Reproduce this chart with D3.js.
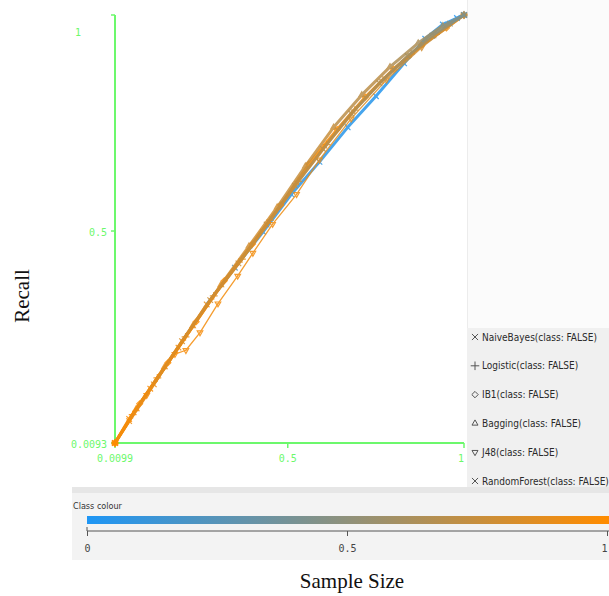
<!DOCTYPE html>
<html>
<head>
<meta charset="utf-8">
<script src="https://cdn.jsdelivr.net/npm/d3@7"></script>
<style>
  body { margin: 0; background: #fff; }
</style>
</head>
<body>
<div id="chart"></div>
<script>
// ---- data ----
const seriesNames = ['NaiveBayes', 'Logistic', 'IB1', 'Bagging', 'J48', 'RandomForest'];
const legendLabels = seriesNames.map(n => `${n}(class: FALSE)`);

const nbSample  = [0.0099, 0.05, 0.11, 0.19, 0.27, 0.35, 0.43, 0.51, 0.59, 0.67, 0.75, 0.83, 0.89, 0.94, 0.98, 1.0];
const nbRecall  = [0.0093, 0.065, 0.135, 0.23, 0.33, 0.415, 0.498, 0.585, 0.66, 0.74, 0.812, 0.888, 0.945, 0.978, 0.993, 1.0];
const nbThresh  = [1, 1, 0.99, 0.97, 0.9, 0.3, 0.15, 0.1, 0.07, 0.05, 0.04, 0.03, 0.02, 0.01, 0.005, 0];

const logSample = [0.0099, 0.06, 0.13, 0.21, 0.29, 0.37, 0.45, 0.53, 0.61, 0.69, 0.77, 0.85, 0.92, 1.0];
const logRecall = [0.0093, 0.075, 0.16, 0.255, 0.35, 0.435, 0.525, 0.615, 0.70, 0.78, 0.85, 0.91, 0.955, 1.0];
const logThresh = [1, 0.98, 0.95, 0.92, 0.9, 0.88, 0.85, 0.8, 0.78, 0.75, 0.72, 0.7, 0.68, 0.6];

const ibSample  = [0.0099, 0.08, 0.16, 0.24, 0.32, 0.40, 0.48, 0.56, 0.64, 0.72, 0.80, 0.88, 0.95, 1.0];
const ibRecall  = [0.0093, 0.10, 0.195, 0.29, 0.385, 0.47, 0.56, 0.655, 0.735, 0.81, 0.875, 0.93, 0.97, 1.0];
const ibThresh  = [1, 1, 1, 1, 1, 1, 1, 1, 1, 0.98, 0.97, 0.95, 0.92, 0.9];

const bagSample = [0.0099, 0.07, 0.15, 0.23, 0.31, 0.39, 0.47, 0.55, 0.63, 0.71, 0.79, 0.87, 0.94, 1.0];
const bagRecall = [0.0093, 0.088, 0.185, 0.28, 0.375, 0.465, 0.555, 0.65, 0.74, 0.815, 0.88, 0.935, 0.975, 1.0];
const bagThresh = [1, 0.95, 0.9, 0.9, 0.85, 0.8, 0.8, 0.75, 0.75, 0.7, 0.7, 0.65, 0.6, 0.5];

const j48Sample = [0.0099, 0.10, 0.18, 0.211, 0.251, 0.302, 0.358, 0.401, 0.457, 0.525, 0.59, 0.68, 0.78, 0.88, 1.0];
const j48Recall = [0.0093, 0.12, 0.215, 0.224, 0.265, 0.332, 0.396, 0.449, 0.516, 0.585, 0.665, 0.76, 0.85, 0.925, 1.0];
const j48Thresh = [1, 0.98, 0.97, 0.96, 0.96, 0.95, 0.95, 0.94, 0.94, 0.93, 0.9, 0.88, 0.85, 0.8, 0.75];

const rfSample  = [0.0099, 0.05, 0.12, 0.20, 0.28, 0.36, 0.44, 0.52, 0.60, 0.68, 0.76, 0.84, 0.91, 0.96, 1.0];
const rfRecall  = [0.0093, 0.06, 0.145, 0.245, 0.34, 0.425, 0.515, 0.605, 0.69, 0.772, 0.842, 0.905, 0.952, 0.98, 1.0];
const rfThresh  = [1, 0.95, 0.9, 0.85, 0.8, 0.78, 0.75, 0.72, 0.7, 0.68, 0.65, 0.6, 0.55, 0.5, 0.4];

const xTicks = [0.0099, 0.5, 1];
const yTicks = [0.0093, 0.5, 1];
const colourTicks = [0, 0.5, 1];

// ---- setup ----
const W = 609, H = 596;
const green = '#6cf86c';

const svg = d3.select('#chart').append('svg')
    .attr('width', W)
    .attr('height', H);

// panels (Weka window look)
svg.append('rect').attr('x', 467).attr('y', 0).attr('width', W - 467).attr('height', 328).attr('fill', '#fbfbfb');
svg.append('line').attr('x1', 467.5).attr('x2', 467.5).attr('y1', 0).attr('y2', 328).attr('stroke', '#ececec');
svg.append('rect').attr('x', 467).attr('y', 328).attr('width', W - 467).attr('height', 160).attr('fill', '#f0f0f0');
svg.append('rect').attr('x', 72).attr('y', 487).attr('width', W - 72).attr('height', 6).attr('fill', '#e6e6e6');
svg.append('rect').attr('x', 72).attr('y', 493).attr('width', W - 72).attr('height', 67).attr('fill', '#f3f3f3');

// ---- scales ----
const x = d3.scaleLinear().domain([0.0099, 1]).range([115, 464]);
const y = d3.scaleLinear().domain([0.0093, 1]).range([443, 15]);
const colour = d3.scaleLinear().domain([0, 1]).range(['#1e96f5', '#ff8c00']).interpolate(d3.interpolateRgb);

// ---- axes (green, Weka style) ----
const plot = svg.append('g');
plot.append('line').attr('x1', x(0.0099)).attr('x2', x(0.0099)).attr('y1', y(1)).attr('y2', y(0.0093))
    .attr('stroke', green).attr('stroke-width', 2);
plot.append('line').attr('x1', x(0.0099)).attr('x2', x(1)).attr('y1', y(0.0093)).attr('y2', y(0.0093))
    .attr('stroke', green).attr('stroke-width', 2);

const tickFont = "'DejaVu Sans Mono', monospace";
plot.selectAll('.ytick').data(yTicks).enter().append('line')
    .attr('x1', x(0.0099) - 4).attr('x2', x(0.0099)).attr('y1', d => y(d)).attr('y2', d => y(d))
    .attr('stroke', green).attr('stroke-width', 1.5);
plot.selectAll('.ylab').data(yTicks).enter().append('text')
    .attr('x', d => d === 1 ? 78 : 107)
    .attr('y', d => d === 1 ? y(d) + 17 : y(d) + 1)
    .attr('dy', '0.35em')
    .attr('text-anchor', d => d === 1 ? 'middle' : 'end')
    .attr('font-family', tickFont).attr('font-size', 10).attr('fill', green)
    .text(d => d === 1 ? '1' : String(d));

plot.selectAll('.xtick').data(xTicks).enter().append('line')
    .attr('x1', d => x(d)).attr('x2', d => x(d)).attr('y1', y(0.0093)).attr('y2', y(0.0093) + 5)
    .attr('stroke', green).attr('stroke-width', 1.5);
plot.selectAll('.xlab').data(xTicks).enter().append('text')
    .attr('x', d => d === 1 ? x(d) - 3 : x(d))
    .attr('y', y(0.0093) + 19)
    .attr('text-anchor', 'middle')
    .attr('font-family', tickFont).attr('font-size', 10).attr('fill', green)
    .text(d => String(d));

// ---- series ----
const symX = d3.symbolX || d3.symbolCross;
const shapes = [
    { type: symX, rot: 0 },
    { type: d3.symbolPlus || d3.symbolCross, rot: 0 },
    { type: d3.symbolDiamond2 || d3.symbolDiamond, rot: 0 },
    { type: d3.symbolTriangle2 || d3.symbolTriangle, rot: 0 },
    { type: d3.symbolTriangle2 || d3.symbolTriangle, rot: 180 },
    { type: symX, rot: 0 }
];

const series = [
    { s: nbSample, r: nbRecall, t: nbThresh },
    { s: logSample, r: logRecall, t: logThresh },
    { s: ibSample, r: ibRecall, t: ibThresh },
    { s: bagSample, r: bagRecall, t: bagThresh },
    { s: j48Sample, r: j48Recall, t: j48Thresh },
    { s: rfSample, r: rfRecall, t: rfThresh }
].map((d, i) => ({
    name: seriesNames[i],
    shape: shapes[i],
    points: d.s.map((v, k) => ({ sample: v, recall: d.r[k], thresh: d.t[k] }))
}));

series.forEach(ser => {
    const g = plot.append('g').attr('opacity', 0.85);
    g.selectAll('line').data(d3.pairs(ser.points)).enter().append('line')
        .attr('x1', d => x(d[0].sample)).attr('y1', d => y(d[0].recall))
        .attr('x2', d => x(d[1].sample)).attr('y2', d => y(d[1].recall))
        .attr('stroke', d => colour(d[1].thresh))
        .attr('stroke-width', ser.name === 'J48' ? 1.3 : 3)
        .attr('stroke-linecap', 'round');
    const sym = d3.symbol().type(ser.shape.type).size(22);
    g.selectAll('path').data(ser.points).enter().append('path')
        .attr('d', sym)
        .attr('transform', d => `translate(${x(d.sample)},${y(d.recall)}) rotate(${ser.shape.rot})`)
        .attr('fill', 'none')
        .attr('stroke', d => colour(d.thresh))
        .attr('stroke-width', 1.2);
});

// ---- legend ----
const legend = svg.append('g');
const legendY = d3.scalePoint().domain(seriesNames).range([337, 481]);
seriesNames.forEach((name, i) => {
    const cy = legendY(name);
    legend.append('path')
        .attr('d', d3.symbol().type(shapes[i].type).size(26)())
        .attr('transform', `translate(475,${cy}) rotate(${shapes[i].rot})`)
        .attr('fill', 'none').attr('stroke', '#555').attr('stroke-width', 1);
    legend.append('text')
        .attr('x', 482).attr('y', cy).attr('dy', '0.35em')
        .attr('font-family', "'DejaVu Sans', sans-serif")
        .attr('font-stretch', 'condensed')
        .attr('font-size', 10)
        .attr('fill', '#2a2a2a')
        .text(legendLabels[i]);
});

// ---- class colour bar ----
const cx = d3.scaleLinear().domain([0, 1]).range([87, 607]);
const defs = svg.append('defs');
const grad = defs.append('linearGradient').attr('id', 'classGrad')
    .attr('gradientUnits', 'userSpaceOnUse')
    .attr('x1', cx(0)).attr('x2', cx(1)).attr('y1', 0).attr('y2', 0);
grad.selectAll('stop').data(d3.range(0, 1.01, 0.1)).enter().append('stop')
    .attr('offset', d => d).attr('stop-color', d => colour(d));

svg.append('text').attr('x', 73).attr('y', 509)
    .attr('font-family', "'DejaVu Sans', sans-serif").attr('font-stretch', 'condensed')
    .attr('font-size', 9).attr('fill', '#333').text('Class colour');
svg.append('rect').attr('x', cx(0)).attr('y', 516).attr('width', W - cx(0)).attr('height', 8)
    .attr('fill', 'url(#classGrad)');

const colourAxis = svg.append('g').attr('transform', 'translate(0,531)')
    .call(d3.axisBottom(cx).tickValues(colourTicks).tickSize(5).tickFormat(d => String(d)));
colourAxis.select('.domain').attr('stroke', '#555').attr('d', `M${cx(0)},-4V0H${W}`);
colourAxis.selectAll('.tick line').attr('stroke', '#555');
colourAxis.selectAll('.tick text').attr('font-family', tickFont).attr('font-size', 10).attr('fill', '#444').attr('dy', '1.3em')
    .attr('text-anchor', d => d === 1 ? 'end' : 'middle');

// ---- axis titles ----
svg.append('text')
    .attr('x', 352).attr('y', 588)
    .attr('text-anchor', 'middle')
    .attr('font-family', "'Liberation Serif', 'Times New Roman', serif")
    .attr('font-size', 21)
    .attr('fill', '#111')
    .text('Sample Size');
svg.append('text')
    .attr('transform', 'translate(29,296) rotate(-90)')
    .attr('text-anchor', 'middle')
    .attr('font-family', "'Liberation Serif', 'Times New Roman', serif")
    .attr('font-size', 21)
    .attr('fill', '#111')
    .text('Recall');
</script>
</body>
</html>
